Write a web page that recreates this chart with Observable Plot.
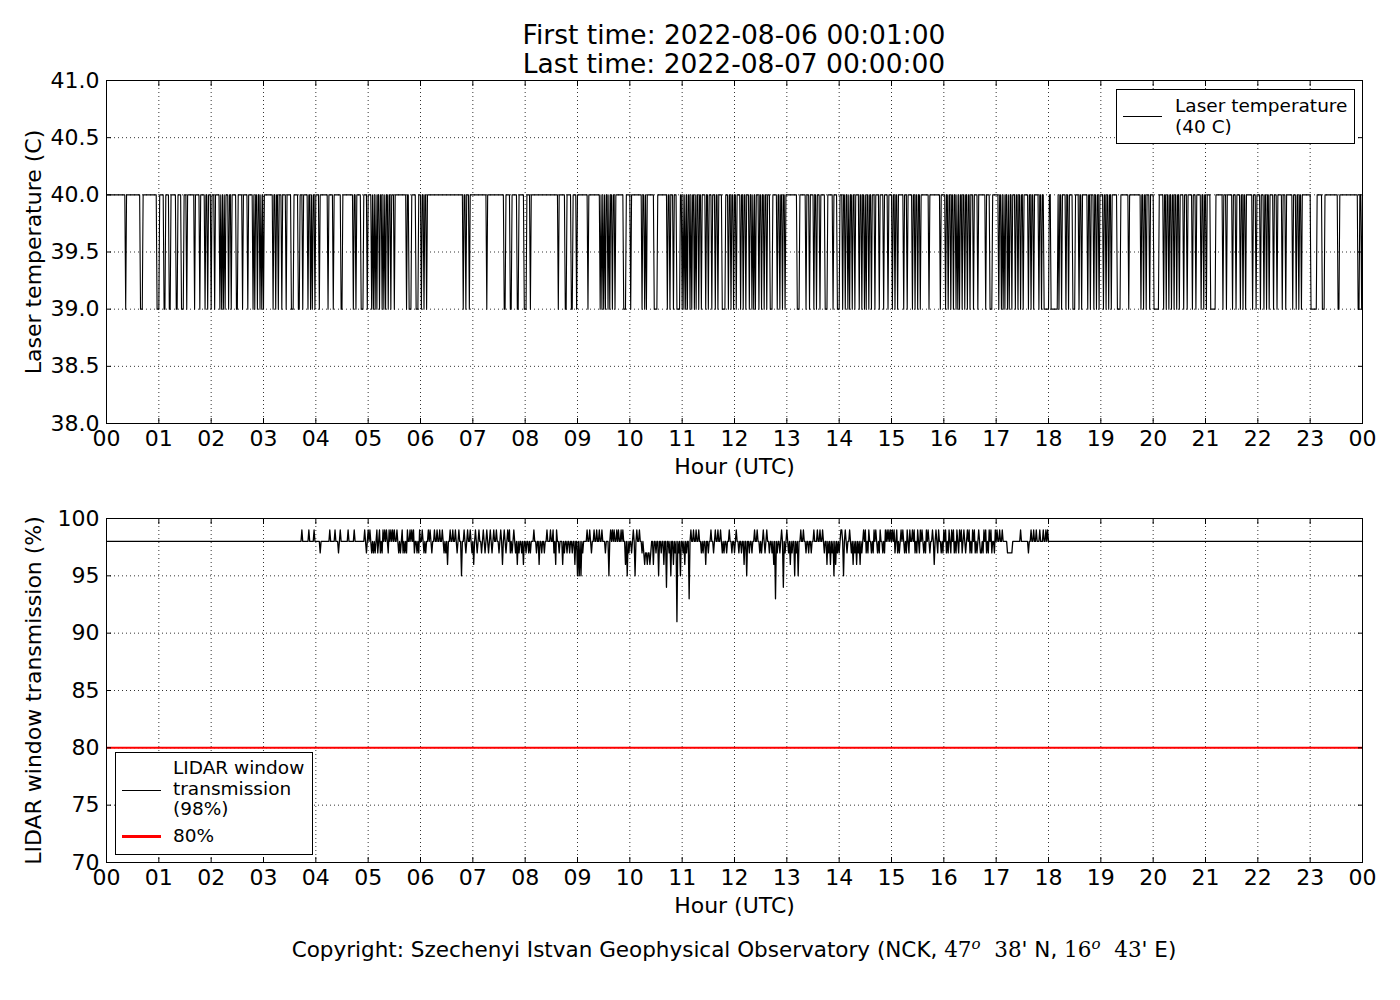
<!DOCTYPE html>
<html><head><meta charset="utf-8">
<script src="https://cdn.jsdelivr.net/npm/d3@7"></script>
<script src="https://cdn.jsdelivr.net/npm/@observablehq/plot@0.6"></script>
<style>
body{margin:0;background:#fff;font-family:"DejaVu Sans",sans-serif;color:#000;}
#page{position:relative;width:1400px;height:1000px;background:#fff;overflow:hidden;}
.abs{position:absolute;}
.title{left:106px;width:1256px;text-align:center;font-size:26.5px;line-height:29px;}
.legend{position:absolute;border:1px solid #000;background:#fff;font-size:18.5px;box-sizing:border-box;}
.legend .sw{position:absolute;}
.legend .tx{position:absolute;line-height:20.5px;white-space:nowrap;}
.copy{left:106px;width:1256px;text-align:center;font-size:21.5px;line-height:26px;white-space:nowrap;}
.m{font-family:"DejaVu Serif",serif;}
.m sup{font-style:italic;font-size:70%;}
</style></head><body><div id="page"></div><script>
// ---------------- data ----------------
const hourTicks = [0,1,2,3,4,5,6,7,8,9,10,11,12,13,14,15,16,17,18,19,20,21,22,23,24];
const hourTickLabels = ["00","01","02","03","04","05","06","07","08","09","10","11","12","13","14","15","16","17","18","19","20","21","22","23","00"];
const tempTicks = [38.0,38.5,39.0,39.5,40.0,40.5,41.0];
const transTicks = [70,75,80,85,90,95,100];
const tempBase = 40;   // laser temperature nominal (C)
const tempLow = 39;    // dropped value (C)
// laser temperature drops to 39 C: [start minute of day, duration in minutes]
const tempDips = [[22,1],[39,3],[58,3],[66,2],[72,2],[80,2],[86,3],[92,1],[101,1],[107,1],[113,1],[116,1],[120,1],[124,1],[130,1],[132,1],[134,1],[136,1],[140,1],[143,1],[149,2],[156,1],[162,1],[168,1],[170,1],[173,1],[176,1],[178,1],[180,1],[191,1],[194,1],[197,1],[201,1],[206,1],[212,3],[220,2],[225,1],[231,1],[234,1],[236,1],[239,1],[244,1],[254,1],[260,1],[269,2],[283,1],[286,1],[292,3],[299,1],[304,1],[306,1],[308,1],[310,1],[313,1],[316,1],[318,1],[320,1],[323,1],[326,1],[330,1],[344,1],[347,3],[355,3],[361,1],[364,1],[367,1],
[409,1],[412,1],[416,1],[436,1],[456,2],[463,2],[471,2],[479,3],[486,1],[518,1],[526,2],[533,2],[539,1],[552,1],[566,1],[568,1],[570,1],[572,1],[575,1],[577,1],[580,1],[583,1],[593,3],[601,1],[614,1],[617,1],[619,1],[628,4],[643,1],[646,1],[650,1],[654,4],[660,1],[662,1],[664,1],[666,1],[669,1],[671,1],[674,1],[676,1],[679,1],[682,1],[687,1],[690,1],[694,1],[698,1],[701,1],[706,4],[713,1],[716,1],[719,1],[722,1],[727,1],[730,1],[733,1],[737,1],[740,1],[742,1],[744,1],[748,1],[751,1],[754,1],[757,1],[761,3],[769,1],[772,1],[775,1],[778,1],[792,3],[802,1],[806,1],[811,1],[814,1],[818,1],[824,3],[833,1],[838,3],[844,1],[847,1],[850,1],[852,1],[855,1],[858,1],[863,1],[866,1],[869,1],[871,1],[874,1],[877,1],[881,1],[886,1],[891,1],[896,1],[901,1],[904,1],[907,1],[914,1],[918,1],[924,1],[927,1],[930,1],[933,1],[943,1],[956,1],[962,1],[965,1],[968,1],[971,1],[974,1],[976,1],[978,1],[981,1],[984,1],[987,1],[990,1],[994,1],[999,1],[1008,1],[1013,3],[1023,1],[1026,1],[1028,1],[1030,1],[1033,1],[1035,1],[1038,1],[1042,1],[1045,1],[1048,1],[1051,1],[1057,1],[1060,1],[1063,1],[1069,1],[1072,1],[1075,6],[1083,8],[1092,1],[1095,1],[1100,1],[1103,1],[1108,3],[1115,1],[1118,1],[1125,1],[1128,1],[1132,1],[1135,1],[1138,1],[1143,1],[1146,1],[1149,1],[1152,1],[1159,4],[1172,1],[1186,1],[1189,1],[1192,1],[1196,1],[1201,6],[1212,1],[1215,1],[1218,1],[1221,1],[1224,1],[1227,1],[1230,1],[1235,1],[1239,1],[1245,1],[1249,1],[1255,1],[1258,1],[1261,1],[1266,6],[1280,1],[1284,1],[1291,1],[1295,1],[1300,1],[1303,1],[1306,1],[1314,1],[1318,1],[1323,1],[1327,1],[1330,1],[1333,1],[1338,1],[1342,1],[1348,1],[1352,1],[1360,1],[1364,1],[1367,1],[1370,1],[1381,7],[1394,3],[1412,2],[1435,2],[1439,1]];
const transBase = 98;  // LIDAR window transmission nominal (%)
const transLimit = 80; // threshold (%)
// readings differing from 98 %: [minute of day, value %]
const transDev = [[224,99],[232,99],[238,99],[245,97],[256,99],[262,99],[266,97],[268,99],[277,99],[284,99],[296,99],[298,97],[300,99],[302,99],[304,97],[306,97],[308,97],[310,99],[311,97],[313,99],[314,97],[316,97],[317,99],[319,99],[321,99],[323,97],[324,99],[326,99],[328,99],[330,99],[333,99],[335,97],[337,97],[339,99],[340,97],[342,97],[344,97],[345,99],[348,99],[350,99],[352,99],[353,97],[356,97],[358,97],[359,99],[362,99],[364,97],[366,97],[369,99],[371,99],[373,97],[376,99],[379,99],[382,99],[385,99],[387,97],[389,97],[391,96],[394,99],[397,99],[400,99],[402,97],[404,99],[407,95],[410,99],[412,97],[414,99],[417,99],[419,97],[421,96],[423,99],[425,97],[427,99],[430,97],[432,99],[434,97],[436,99],[438,97],[440,99],[442,97],[444,99],[447,99],[450,97],[452,99],[454,96],[456,99],[458,97],[460,99],[462,99],[463,97],[465,97],[467,99],[469,97],[471,96],[473,97],[476,97],[478,96],[481,97],[484,97],[486,97],[490,99],[493,97],[496,96],[499,97],[502,97],[505,99],[509,99],[512,99],[513,97],[515,96],[516,99],[519,97],[523,96],[525,97],[528,97],[531,97],[534,97],[537,96],[540,95],[542,95],[544,95],[546,97],[551,99],[554,99],[556,97],[559,99],[562,99],[565,99],[568,99],[572,97],[576,95],[578,99],[580,99],[582,99],[585,99],[587,99],[590,99],[592,99],[595,96],[597,95],[599,97],[602,97],[604,99],[606,95],[608,99],[611,99],[614,97],[616,97],[617,96],[618,97],[619,97],[620,96],[621,97],[622,97],[623,96],[624,97],[627,96],[630,97],[633,95],[636,97],[639,96],[642,94],[645,97],[647,95],[650,96],[652,97],[654,91],[656,97],[658,95],[661,97],[663,96],[665,97],[668,93],[670,99],[673,99],[676,99],[679,99],[682,97],[684,97],[687,96],[690,97],[693,99],[696,97],[698,99],[701,99],[704,99],[706,97],[708,97],[711,97],[714,99],[717,97],[720,97],[722,99],[725,97],[728,97],[731,96],[734,95],[737,97],[740,97],[743,99],[746,99],[749,97],[751,97],[753,99],[755,97],[757,99],[760,97],[763,97],[765,96],[767,93],[769,97],[772,97],[774,99],[776,94],[778,97],[780,99],[782,97],[784,96],[786,97],[789,95],[791,97],[793,95],[796,99],[799,99],[802,97],[805,97],[808,97],[811,99],[815,99],[818,99],[821,99],[823,97],[826,96],[828,97],[830,96],[832,97],[834,95],[836,96],[838,97],[840,97],[842,99],[843,99],[845,95],[847,99],[849,97],[852,99],[854,97],[856,96],[858,97],[860,96],[862,97],[864,96],[866,97],[868,99],[870,99],[871,97],[873,97],[874,99],[877,97],[879,97],[880,99],[882,99],[884,97],[886,97],[887,99],[890,97],[892,97],[893,99],[895,99],[897,99],[899,99],[901,99],[903,99],[904,97],[906,99],[907,97],[909,97],[911,99],[913,99],[915,97],[917,97],[918,99],[920,97],[921,99],[924,99],[926,99],[927,97],[929,97],[930,99],[932,97],[933,99],[935,99],[937,97],[939,97],[940,99],[942,99],[944,97],[947,99],[949,96],[951,99],[953,97],[954,99],[957,97],[959,97],[960,99],[962,99],[963,97],[965,97],[966,99],[968,97],[969,99],[971,99],[972,97],[974,97],[975,99],[977,97],[978,99],[980,99],[981,97],[983,99],[985,97],[987,99],[989,99],[990,97],[992,97],[993,99],[995,99],[996,97],[998,97],[1000,99],[1002,97],[1003,97],[1005,97],[1006,99],[1008,99],[1009,97],[1011,97],[1012,99],[1014,99],[1015,97],[1018,97],[1019,99],[1021,99],[1024,99],[1027,99],[1033,97],[1034,97],[1035,97],[1036,97],[1037,97],[1038,97],[1048,99],[1057,97],[1060,99],[1063,99],[1066,99],[1070,99],[1074,99],[1077,99],[1079,99]];
const firstMinute = 1, lastMinute = 1440;

// ---------------- build per-minute tables ----------------
const tempMap = new Map();
for (const [s, len] of tempDips) for (let k = 0; k < len; k++) tempMap.set(s + k, tempLow);
const transMap = new Map(transDev);
const tempSeries = [], transSeries = [];
for (let m = firstMinute; m <= lastMinute; m++) {
  tempSeries.push({h: m / 60, v: tempMap.has(m) ? tempMap.get(m) : tempBase});
  transSeries.push({h: m / 60, v: transMap.has(m) ? transMap.get(m) : transBase});
}

const FONT = "DejaVu Sans";
const xFmt = (d) => hourTickLabels[hourTicks.indexOf(d)];
const grid = {stroke: "#000", strokeOpacity: 1, strokeWidth: 0.8, strokeDasharray: "1,3"};

function frameAxes(yTicks, yFmt, yLabel, yLabelOffset) {
  return [
    Plot.axisX({ticks: hourTicks, anchor: "bottom", tickSize: 0, tickPadding: 7, tickFormat: xFmt,
      label: "Hour (UTC)", labelAnchor: "center", labelArrow: "none", labelOffset: 50, fontSize: 22}),
    Plot.axisX({ticks: hourTicks, anchor: "bottom", tickSize: -5, tickFormat: () => "", label: null}),
    Plot.axisX({ticks: hourTicks, anchor: "top", tickSize: -5, tickFormat: () => "", label: null}),
    Plot.axisY({ticks: yTicks, anchor: "left", tickSize: 0, tickPadding: 7, tickFormat: yFmt,
      label: yLabel, labelAnchor: "center", labelArrow: "none", labelOffset: yLabelOffset, fontSize: 22}),
    Plot.axisY({ticks: yTicks, anchor: "left", tickSize: -5, tickFormat: () => "", label: null}),
    Plot.axisY({ticks: yTicks, anchor: "right", tickSize: -5, tickFormat: () => "", label: null})
  ];
}

const page = document.getElementById("page");

const topPlot = Plot.plot({
  width: 1400, height: 480, marginTop: 80, marginBottom: 57, marginLeft: 106, marginRight: 38,
  style: {fontFamily: FONT, fontSize: "22px", color: "#000", background: "transparent"},
  x: {domain: [0, 24]},
  y: {domain: [38, 41]},
  marks: [
    Plot.gridX(hourTicks, grid),
    Plot.gridY(tempTicks, grid),
    Plot.line(tempSeries, {x: "h", y: "v", stroke: "#000", strokeWidth: 1.1}),
    Plot.frame({stroke: "#000", strokeWidth: 1}),
    ...frameAxes(tempTicks, d3.format(".1f"), "Laser temperature (C)", 81)
  ]
});
topPlot.style.position = "absolute"; topPlot.style.left = "0px"; topPlot.style.top = "0px";
page.appendChild(topPlot);

const bottomPlot = Plot.plot({
  width: 1400, height: 440, marginTop: 38, marginBottom: 58, marginLeft: 106, marginRight: 38,
  style: {fontFamily: FONT, fontSize: "22px", color: "#000", background: "transparent"},
  x: {domain: [0, 24]},
  y: {domain: [70, 100]},
  marks: [
    Plot.gridX(hourTicks, grid),
    Plot.gridY(transTicks, grid),
    Plot.line(transSeries, {x: "h", y: "v", stroke: "#000", strokeWidth: 1.3}),
    Plot.ruleY([transLimit], {stroke: "#ff0000", strokeWidth: 2}),
    Plot.frame({stroke: "#000", strokeWidth: 1}),
    ...frameAxes(transTicks, d3.format("d"), "LIDAR window transmission (%)", 81)
  ]
});
bottomPlot.style.position = "absolute"; bottomPlot.style.left = "0px"; bottomPlot.style.top = "480px";
page.appendChild(bottomPlot);

// ---------------- titles, legends, caption ----------------
const titleDiv = document.createElement("div");
titleDiv.className = "abs title"; titleDiv.style.top = "20px";
titleDiv.innerHTML = "First time: 2022-08-06 00:01:00<br>Last time: 2022-08-07 00:00:00";
page.appendChild(titleDiv);

const leg1 = document.createElement("div");
leg1.className = "legend";
Object.assign(leg1.style, {left: "1116px", top: "89px", width: "239px", height: "55px"});
leg1.innerHTML = '<div class="sw" style="left:6px;top:26px;width:39px;height:0;border-top:1px solid #000"></div>' +
  '<div class="tx" style="left:58px;top:5px;line-height:21px">Laser temperature<br>(40 C)</div>';
page.appendChild(leg1);

const leg2 = document.createElement("div");
leg2.className = "legend";
Object.assign(leg2.style, {left: "115px", top: "752px", width: "198px", height: "103px"});
leg2.innerHTML = '<div class="sw" style="left:6px;top:37px;width:39px;height:0;border-top:1px solid #000"></div>' +
  '<div class="tx" style="left:57px;top:5px">LIDAR window<br>transmission<br>(98%)</div>' +
  '<div class="sw" style="left:6px;top:82px;width:39px;height:0;border-top:3px solid #ff0000"></div>' +
  '<div class="tx" style="left:57px;top:73px">80%</div>';
page.appendChild(leg2);

const copyDiv = document.createElement("div");
copyDiv.className = "abs copy"; copyDiv.style.top = "931px";
copyDiv.innerHTML = 'Copyright: Szechenyi Istvan Geophysical Observatory (NCK, <span class="m">47<sup>o</sup>&nbsp;&nbsp;38</span>\' N, <span class="m">16<sup>o</sup>&nbsp;&nbsp;43</span>\' E)';
page.appendChild(copyDiv);
</script></body></html>
